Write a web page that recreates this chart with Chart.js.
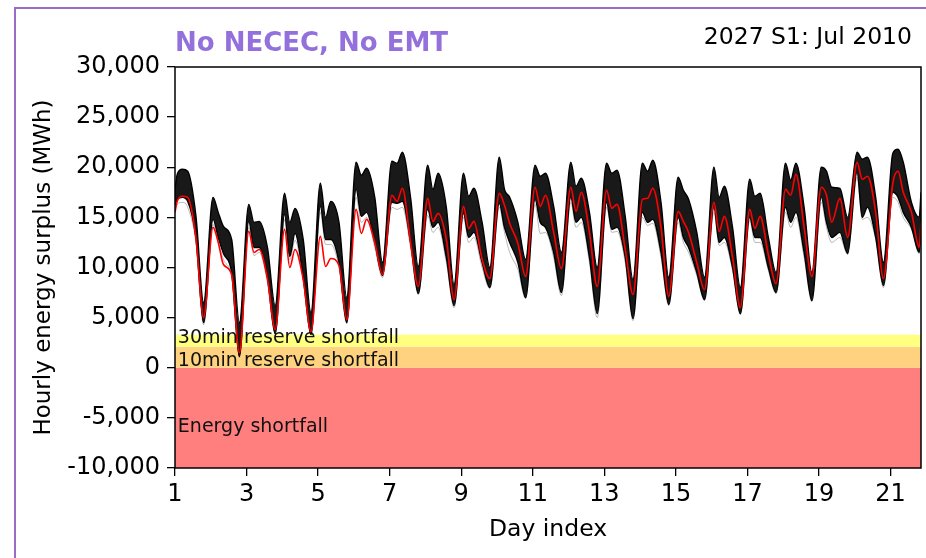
<!DOCTYPE html>
<html>
<head>
<meta charset="utf-8">
<script src="https://cdn.jsdelivr.net/npm/chart.js@4"></script>
<style>
  html, body { margin: 0; padding: 0; background: #fff; }
  #wrap { width: 926px; height: 558px; position: relative; }
</style>
</head>
<body>
<div id="wrap"><canvas id="myChart" width="926" height="558"></canvas></div>
<script>
// hourly surplus, sampled at a few hours of each day (MWh)
var days = [1,2,3,4,5,6,7,8,9,10,11,12,13,14,15,16,17,18,19,20,21];
var hourMarks = [1.5, 5, 8.5, 14, 19.2];
var startDay = 1.0;
var endDay = 21.85;
var dayTicks = [1,3,5,7,9,11,13,15,17,19,21];

// upper edge of the black ensemble
var blackTop = [17800,
  19300,19800,19600,15200,6500,
  17000,15500,14100,12800,4500,
  16300,14500,14600,12000,6200,
  17400,14500,15900,12800,5500,
  18400,15000,16600,14500,7000,
  20500,19200,19900,17000,10500,
  20600,20400,21500,17000,10100,
  20200,17800,19400,16000,8300,
  19400,17100,17900,14500,10000,
  21000,17800,17000,14500,10800,
  20200,19100,19400,16100,11500,
  20500,18100,18900,15500,10000,
  20400,19400,19700,15100,8800,
  20400,19600,20700,16500,9000,
  19000,17700,16800,13500,9000,
  20000,17000,18100,14000,8000,
  18800,17100,17400,13000,9500,
  20400,18700,20400,16000,9500,
  20000,19600,18000,17900,15000,
  21500,20800,21000,17000,10500,
  21400,21800,20500,16500,15000,
  17500];

// lower edge of the black ensemble
var blackBottom = [16200,
  16800,17000,16600,13000,4500,
  14800,13000,11400,9500,1100,
  14600,12000,12000,9000,3400,
  15300,11100,13400,9000,3300,
  16100,12800,12800,10500,4500,
  17800,15100,15500,12500,9200,
  16500,16400,16600,12500,7400,
  15800,14000,14500,11000,6200,
  15400,13000,13500,10500,8000,
  16400,14000,12500,10500,7000,
  16800,14500,14000,11500,7500,
  17000,14500,15000,11000,5400,
  16500,13800,14000,11000,4900,
  15500,14500,14800,11500,6300,
  15000,13000,12000,9500,6800,
  16000,12500,13000,10000,5400,
  15000,13000,13000,10000,7500,
  16000,14500,15500,11500,6700,
  17000,14500,13000,13500,11400,
  19500,15000,16000,13000,8200,
  17500,17000,15500,14000,11500,
  14000];

// light grey members below the bundle
var greyLow = [15800,
  16300,16500,16000,12500,4300,
  14300,12500,10800,9000,1300,
  14000,11200,11500,8500,3400,
  14800,10800,12700,8800,3400,
  15500,12300,12300,10000,4400,
  17000,14500,15000,12000,9000,
  16000,15800,16000,12000,7300,
  15200,13500,14000,10500,6000,
  15000,12500,13000,10000,7900,
  16000,13500,11500,9800,6900,
  16300,13400,13500,11000,7200,
  16500,14000,14500,10500,5000,
  16000,13500,13600,10500,4700,
  15000,14200,14400,11000,6200,
  14500,12500,11500,9200,6700,
  15500,12200,12500,9700,5300,
  14700,12500,12500,9700,7400,
  15500,14000,15000,11000,6600,
  16500,14000,12500,13000,11300,
  19000,14800,15000,12800,8000,
  17000,16500,15000,13800,11400,
  13800];

// highlighted member (red)
var redLine = [15500,
  16600,17100,17000,13000,5000,
  14000,12500,10300,9300,1500,
  13600,11500,11800,8900,3800,
  13800,10000,11800,8800,3600,
  13100,10100,10900,10200,4800,
  15800,13400,14800,12500,9300,
  17200,16600,17900,12500,8100,
  16900,14600,15400,12800,6800,
  16100,13900,14600,10800,8900,
  17400,16200,14400,12400,9100,
  18000,16100,17200,13500,9900,
  18000,15600,17500,13500,8100,
  17700,15900,16300,11800,7300,
  16800,16900,17900,14000,7100,
  15600,14600,13500,10500,7800,
  16500,13600,15100,11000,6000,
  15800,13900,15100,11300,8400,
  17800,17200,19300,14000,9100,
  18000,17200,14500,16900,13000,
  20500,18800,19100,15500,8900,
  18400,19600,17500,15500,12000,
  14500];

// shortfall bands (MWh)
var bands = [
  { from: -10000, to: 0, color: '#ff7f7f', label: 'Energy shortfall', at: -6400 },
  { from: 0, to: 2100, color: '#ffd27f', label: '10min reserve shortfall', at: 150 },
  { from: 2100, to: 3300, color: '#ffff80', label: '30min reserve shortfall', at: 2450 }
];

var xs = [startDay];
for (var d of days) {
  for (var h of hourMarks) xs.push(d + h / 24);
}
xs.push(endDay);

function pts(vals) {
  return vals.map(function (v, i) { return { x: xs[i], y: v }; });
}

var FONT = "'DejaVu Sans', sans-serif";

var bandPlugin = {
  id: 'bands',
  beforeDatasetsDraw: function (chart) {
    var ctx = chart.ctx, a = chart.chartArea, y = chart.scales.y, x = chart.scales.x;
    ctx.save();
    for (var b of bands) {
      var y1 = y.getPixelForValue(b.to), y2 = y.getPixelForValue(b.from);
      ctx.fillStyle = b.color;
      ctx.fillRect(a.left, y1, a.right - a.left, y2 - y1);
    }
    ctx.fillStyle = '#111';
    ctx.font = '19px ' + FONT;
    ctx.textBaseline = 'alphabetic';
    ctx.textAlign = 'left';
    for (var b of bands) {
      ctx.fillText(b.label, x.getPixelForValue(1.08), y.getPixelForValue(b.at));
    }
    ctx.restore();
  },
  afterDatasetsDraw: function (chart) {
    var ctx = chart.ctx, a = chart.chartArea;
    ctx.save();
    ctx.strokeStyle = '#000';
    ctx.lineWidth = 1.5;
    ctx.strokeRect(a.left, a.top, a.right - a.left, a.bottom - a.top);
    ctx.restore();
  },
  afterDraw: function (chart) {
    var ctx = chart.ctx, a = chart.chartArea;
    ctx.save();
    ctx.strokeStyle = '#9c6cc4';
    ctx.lineWidth = 2;
    ctx.beginPath();
    ctx.moveTo(15, 558);
    ctx.lineTo(15, 8);
    ctx.lineTo(926, 8);
    ctx.stroke();
    ctx.font = 'bold 26px ' + FONT;
    ctx.fillStyle = '#9370db';
    ctx.textAlign = 'left';
    ctx.textBaseline = 'alphabetic';
    ctx.fillText('No NECEC, No EMT', a.left, 51);
    ctx.font = '23.5px ' + FONT;
    ctx.fillStyle = '#000';
    ctx.textAlign = 'right';
    ctx.fillText('2027 S1: Jul 2010', 912, 44);
    ctx.restore();
  }
};

var lineBase = { pointRadius: 0, cubicInterpolationMode: 'monotone' };

var ctx = document.getElementById('myChart').getContext('2d');
var myChart = new Chart(ctx, {
  type: 'line',
  data: {
    datasets: [
      Object.assign({ data: pts(blackTop), borderColor: '#000', borderWidth: 1.4,
        backgroundColor: 'rgba(0,0,0,0.9)', fill: '+1', order: 2 }, lineBase),
      Object.assign({ data: pts(blackBottom), borderColor: '#000', borderWidth: 1.4,
        fill: false, order: 2 }, lineBase),
      Object.assign({ data: pts(greyLow), borderColor: 'rgba(0,0,0,0.28)', borderWidth: 1,
        fill: false, order: 3 }, lineBase),
      Object.assign({ data: pts(redLine), borderColor: '#ff0000', borderWidth: 1.6,
        fill: false, order: 0 }, lineBase)
    ]
  },
  options: {
    responsive: false,
    animation: false,
    events: [],
    layout: { padding: { left: 27, right: 5, top: 67, bottom: 0 } },
    plugins: { legend: { display: false }, tooltip: { enabled: false } },
    scales: {
      x: {
        type: 'linear',
        min: startDay,
        max: endDay,
        afterBuildTicks: function (s) { s.ticks = dayTicks.map(function (v) { return { value: v }; }); },
        afterFit: function (s) { s.height = 90; },
        grid: { display: true, drawOnChartArea: false, drawTicks: true, tickLength: 8, color: '#000', lineWidth: 1.3 },
        border: { display: false },
        ticks: { color: '#000', font: { family: FONT, size: 24 }, padding: 4, maxRotation: 0, autoSkip: false },
        title: { display: true, text: 'Day index', color: '#000', font: { family: FONT, size: 23.5 }, padding: { top: 0, bottom: 14 } }
      },
      y: {
        min: -10000,
        max: 30000,
        ticks: {
          stepSize: 5000, color: '#000', font: { family: FONT, size: 24 }, padding: 7,
          callback: function (v) { return v.toLocaleString('en-US'); }
        },
        afterFit: function (s) { s.width = 148; },
        grid: { display: true, drawOnChartArea: false, drawTicks: true, tickLength: 8, color: '#000', lineWidth: 1.3 },
        border: { display: false },
        title: { display: true, text: 'Hourly energy surplus (MWh)', color: '#000', font: { family: FONT, size: 23 }, padding: { top: 3, bottom: 0 } }
      }
    }
  },
  plugins: [bandPlugin]
});
</script>
</body>
</html>
